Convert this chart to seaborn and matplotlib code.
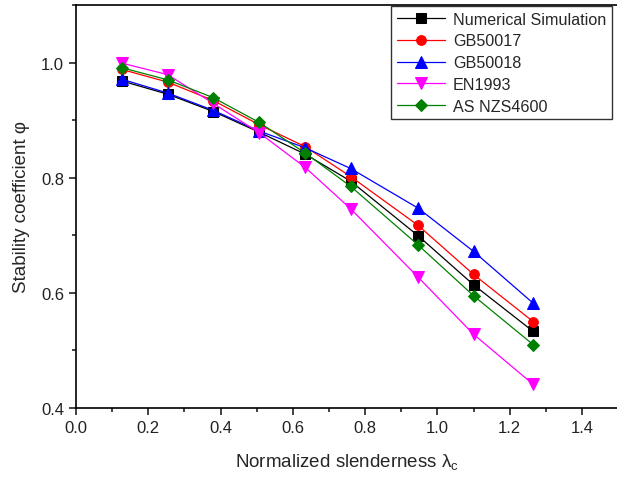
import matplotlib.pyplot as plt
import pandas as pd
import seaborn as sns
from matplotlib.ticker import MultipleLocator

slenderness = [0.127, 0.254, 0.38, 0.507, 0.634, 0.76, 0.947, 1.10, 1.265]
numerical = [0.968, 0.945, 0.915, 0.879, 0.841, 0.794, 0.699, 0.614, 0.533]
gb50017 = [0.988, 0.966, 0.934, 0.892, 0.854, 0.802, 0.717, 0.632, 0.550]
gb50018 = [0.971, 0.947, 0.917, 0.881, 0.852, 0.816, 0.747, 0.672, 0.582]
en1993 = [0.999, 0.979, 0.929, 0.878, 0.818, 0.746, 0.627, 0.528, 0.441]
asnzs4600 = [0.991, 0.970, 0.939, 0.896, 0.843, 0.785, 0.683, 0.595, 0.510]

names = ['Numerical Simulation', 'GB50017', 'GB50018', 'EN1993', 'AS NZS4600']
series = [numerical, gb50017, gb50018, en1993, asnzs4600]
colors = ['black', 'red', 'blue', '#FF00FF', 'green']
markers = ['s', 'o', '^', 'v', 'D']
sizes = [6.5, 7, 8, 8, 6]

sns.set_theme(style='ticks', rc={'axes.linewidth': 1.2})
plt.rcParams['font.family'] = ['Liberation Sans', 'DejaVu Sans']
plt.rcParams['mathtext.fontset'] = 'custom'
plt.rcParams['mathtext.rm'] = 'Liberation Sans'

fig = plt.figure(figsize=(6.17, 4.81), dpi=100)
ax = fig.add_axes([0.1232, 0.1498, 0.8785, 0.8377])

for name, vals, c, m, s in zip(names, series, colors, markers, sizes):
    df = pd.DataFrame({'x': slenderness, 'y': vals})
    sns.lineplot(
        df,
        x='x',
        y='y',
        color=c,
        marker=m,
        markersize=s,
        markeredgecolor=c,
        linewidth=0.9,
        label=name,
        ax=ax,
    )

ax.set_xlim(0, 1.5)
ax.set_ylim(0.4, 1.1)
ax.xaxis.set_major_locator(MultipleLocator(0.2))
ax.xaxis.set_minor_locator(MultipleLocator(0.1))
ax.yaxis.set_major_locator(MultipleLocator(0.2))
ax.yaxis.set_minor_locator(MultipleLocator(0.1))
ax.tick_params(which='major', direction='out', length=5, width=1.2, labelsize=12, colors='#222222')
ax.tick_params(which='minor', direction='out', length=3, width=1.2)
ax.xaxis.set_major_formatter(lambda v, _: f'{v:.1f}')
ax.yaxis.set_major_formatter(lambda v, _: f'{v:.1f}')
ax.set_xlabel('Normalized slenderness λ$_\\mathrm{c}$', fontsize=13.5, labelpad=12)
ax.set_ylabel('Stability coefficient φ', fontsize=13.5, labelpad=8)
# the right border falls just outside the cropped source image
for side in ['top', 'left', 'bottom']:
    ax.spines[side].set_visible(True)
    ax.spines[side].set_color('black')
ax.spines['right'].set_visible(False)

leg = ax.legend(
    loc='upper right',
    bbox_to_anchor=(612 / 617, 474 / 481),
    bbox_transform=fig.transFigure,
    fontsize=11.6,
    frameon=True,
    fancybox=False,
    edgecolor='black',
    handlelength=3.0,
    handletextpad=0.5,
    labelspacing=0.42,
    borderpad=0.35,
    borderaxespad=0,
)
leg.get_frame().set_linewidth(1.0)

fig.savefig('out.png', dpi=100)
